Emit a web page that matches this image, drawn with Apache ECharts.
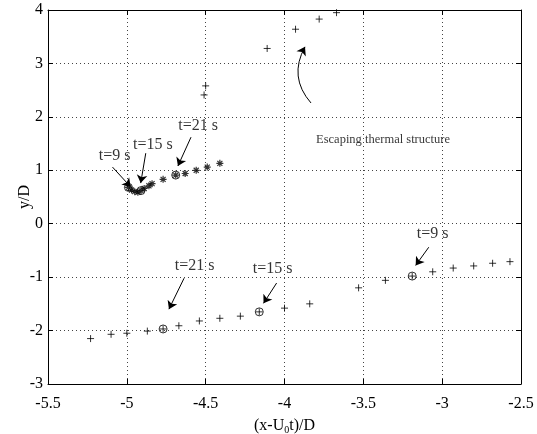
<!DOCTYPE html>
<html><head><meta charset="utf-8">
<script src="https://cdn.jsdelivr.net/npm/echarts@6/dist/echarts.min.js"></script>
<style>html,body{margin:0;padding:0;background:#fff}#c{width:537px;height:434px}</style>
</head><body><div id="c"></div>
<script>
// Lower branch (+ markers)
const lowerX = [-5.23,-5.10,-5.00,-4.87,-4.77,-4.67,-4.54,-4.41,-4.28,-4.16,-4.00,-3.84,-3.53,-3.36,-3.19,-3.06,-2.93,-2.80,-2.68,-2.57];
const lowerY = [-2.15,-2.07,-2.05,-2.01,-1.97,-1.91,-1.82,-1.77,-1.73,-1.65,-1.58,-1.50,-1.20,-1.06,-0.98,-0.90,-0.83,-0.79,-0.74,-0.71];
// Escaping thermal structure (+ markers)
const escX = [-4.51,-4.50,-4.11,-3.93,-3.78,-3.67];
const escY = [2.41,2.58,3.28,3.64,3.83,3.95];
// Upper branch (* markers)
const upperX = [-4.99,-4.97,-4.95,-4.93,-4.91,-4.89,-4.86,-4.84,-4.77,-4.69,-4.63,-4.56,-4.49,-4.41];
const upperY = [0.68,0.63,0.60,0.59,0.62,0.66,0.71,0.75,0.83,0.91,0.94,1.00,1.06,1.13];
// Circled time instants
const circX = [-4.77,-4.16,-3.19,-4.99,-4.91,-4.69];
const circY = [-1.97,-1.65,-0.98,0.68,0.62,0.91];
// Annotation labels
const annText = ['t=21 s','t=15 s','t=9 s','t=9 s','t=15 s','t=21 s'];
const annX = [-4.57,-4.075,-3.06,-5.078,-4.835,-4.548];
const annY = [-0.79,-0.84,-0.19,1.27,1.47,1.83];
// Arrows: start and end points
const arrFrom = [[-4.637,-1.02],[-4.05,-1.11],[-3.085,-0.44],[-5.091,1.06],[-4.88,1.32],[-4.593,1.62]];
const arrTo   = [[-4.733,-1.60],[-4.133,-1.49],[-3.168,-0.78],[-4.976,0.69],[-4.912,0.76],[-4.676,1.08]];
const escArrow = [[-3.832,2.26],[-3.87,3.31]];
const escLabel = {text:'Escaping thermal structure', x:-3.80, y:1.57};
const xTicks = [-5.5,-5,-4.5,-4,-3.5,-3,-2.5];
const yTicks = [-3,-2,-1,0,1,2,3,4];

const font = 'Liberation Serif';
const zip = (a,b)=>a.map((v,i)=>[v,b[i]]);
const plusPath = 'path://M0,-5L0,5M-5,0L5,0';
const starPath = 'path://M0,-5L0,5M-5,0L5,0M-3.6,-3.6L3.6,3.6M-3.6,3.6L3.6,-3.6';
const grid = {type:[1,3], color:'#444', width:1};

const chart = echarts.init(document.getElementById('c'));
chart.setOption({
  animation:false,
  backgroundColor:'#fff',
  grid:{left:48,right:16,top:10,bottom:50,outerBoundsMode:'none',containLabel:false},
  xAxis:[{
    type:'value', min:xTicks[0], max:xTicks[xTicks.length-1], interval:0.5,
    axisLine:{onZero:false,lineStyle:{color:'#000',width:1}},
    axisTick:{inside:true,length:5,lineStyle:{color:'#000'}},
    axisLabel:{color:'#000',fontFamily:font,fontSize:16,margin:12,formatter:v=>String(v)},
    splitLine:{show:true,lineStyle:grid},
    name:'(x-U{s|0}t)/D', nameLocation:'middle', nameGap:33, nameMoveOverlap:false,
    nameTextStyle:{color:'#000',fontFamily:font,fontSize:16,rich:{s:{fontFamily:font,fontSize:10,verticalAlign:'bottom',padding:[8,0,0,0]}}}
  },{
    type:'value', position:'top', min:xTicks[0], max:xTicks[xTicks.length-1], interval:0.5,
    axisLine:{onZero:false,lineStyle:{color:'#000',width:1}},
    axisTick:{inside:true,length:5,lineStyle:{color:'#000'}},
    axisLabel:{show:false}, splitLine:{show:false}
  }],
  yAxis:[{
    type:'value', min:yTicks[0], max:yTicks[yTicks.length-1], interval:1,
    axisLine:{onZero:false,lineStyle:{color:'#000',width:1}},
    axisTick:{inside:true,length:5,lineStyle:{color:'#000'}},
    axisLabel:{color:'#000',fontFamily:font,fontSize:16,margin:5},
    splitLine:{show:true,lineStyle:grid},
    name:'y/D', nameLocation:'middle', nameGap:15, nameMoveOverlap:false,
    nameTextStyle:{color:'#000',fontFamily:font,fontSize:16}
  },{
    type:'value', position:'right', min:yTicks[0], max:yTicks[yTicks.length-1], interval:1,
    axisLine:{onZero:false,lineStyle:{color:'#000',width:1}},
    axisTick:{inside:true,length:5,lineStyle:{color:'#000'}},
    axisLabel:{show:false}, splitLine:{show:false}
  }],
  series:[
    {type:'scatter', data:zip(lowerX,lowerY), symbol:plusPath, symbolSize:7,
     itemStyle:{color:'none',borderColor:'#000',borderWidth:1}},
    {type:'scatter', data:zip(escX,escY), symbol:plusPath, symbolSize:7,
     itemStyle:{color:'none',borderColor:'#000',borderWidth:1}},
    {type:'scatter', data:zip(upperX,upperY), symbol:starPath, symbolSize:7,
     itemStyle:{color:'none',borderColor:'#000',borderWidth:1.2}},
    {type:'scatter', data:zip(circX,circY), symbol:'circle', symbolSize:8,
     itemStyle:{color:'none',borderColor:'#000',borderWidth:1}},
    {type:'scatter', data:annText.map((t,i)=>({value:[annX[i],annY[i]],name:t})).concat([{value:[escLabel.x,escLabel.y],name:escLabel.text,label:{align:'left',fontSize:12.5}}]),
     symbolSize:0, silent:true,
     label:{show:true,position:'inside',formatter:p=>p.name,color:'#000',fontFamily:font,fontSize:16}},
    {type:'lines', coordinateSystem:'cartesian2d', polyline:false,
     data:arrFrom.map((f,i)=>({coords:[f,arrTo[i]]})),
     symbol:['none','arrow'], symbolSize:[0,8],
     lineStyle:{color:'#000',width:1,opacity:1,curveness:0}},
    {type:'lines', coordinateSystem:'cartesian2d',
     data:[{coords:escArrow}],
     symbol:['none','arrow'], symbolSize:[0,8],
     lineStyle:{color:'#000',width:1,opacity:1,curveness:0.35}}
  ]
});
</script></body></html>
